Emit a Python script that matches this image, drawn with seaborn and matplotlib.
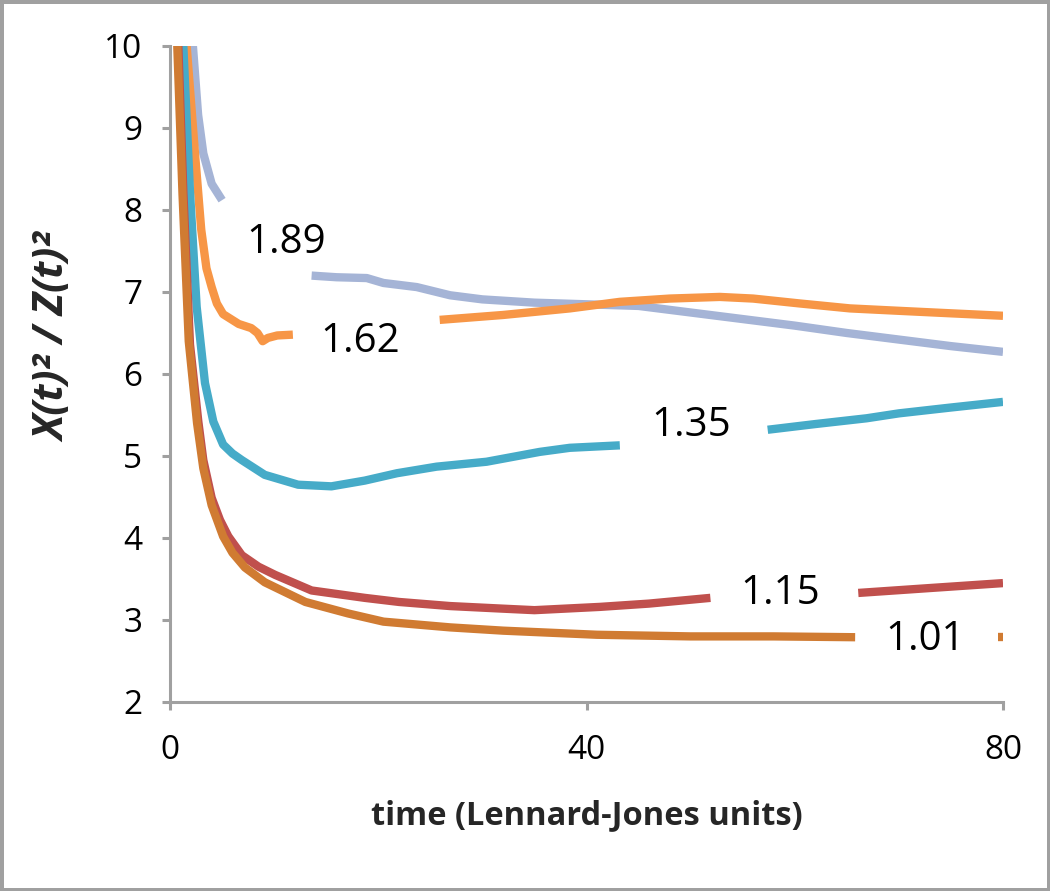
import numpy as np
import pandas as pd
import matplotlib
matplotlib.use("Agg")
import matplotlib.pyplot as plt
import seaborn as sns

# ratio X(t)^2 / Z(t)^2 vs time, one curve per label; nan = gap left for the label
t_189 = [1.9, 2.2, 2.7, 3.2, 4.0, 4.6, 5.0, np.nan,
         13.6, 16, 18.9, 20.5, 23.7, 26.9, 30, 35, 40, 45, 50, 55, 60, 65, 70, 75, 80]
r_189 = [11.0, 10.0, 9.16, 8.69, 8.32, 8.20, 8.12, np.nan,
         7.20, 7.18, 7.17, 7.11, 7.06, 6.96, 6.91, 6.87, 6.85, 6.83, 6.75, 6.67, 6.59, 6.50, 6.42, 6.34, 6.27]

t_162 = [1.3, 1.6, 2.4, 3.0, 3.5, 4.0, 4.5, 5.1, 6.6, 7.8, 8.4, 8.9, 9.4, 10.3, 11.8, np.nan,
         25.9, 32.0, 38.4, 43.2, 48, 52.8, 56, 60.5, 65.3, 70.1, 75, 80]
r_162 = [11.0, 10.0, 8.69, 7.76, 7.29, 7.06, 6.86, 6.73, 6.61, 6.56, 6.50, 6.40, 6.44, 6.47, 6.48, np.nan,
         6.66, 6.72, 6.80, 6.88, 6.92, 6.94, 6.92, 6.86, 6.80, 6.77, 6.74, 6.71]

t_135 = [1.0, 1.28, 1.92, 2.56, 3.36, 4.16, 5.1, 6.0, 6.9, 9.1, 12.3, 15.5, 18.7, 21.8, 25.6, 30.4, 35.5, 38.4, 43.2, np.nan,
         57.4, 62, 66.9, 70, 74.9, 80]
r_135 = [11.0, 10.0, 8.22, 6.82, 5.89, 5.42, 5.14, 5.03, 4.95, 4.77, 4.65, 4.63, 4.70, 4.79, 4.87, 4.93, 5.05, 5.10, 5.13, np.nan,
         5.32, 5.39, 5.46, 5.52, 5.59, 5.66]

t_115 = [0.6, 0.8, 1.28, 1.92, 2.72, 3.2, 4.0, 4.8, 5.6, 6.9, 8.5, 10.1, 13.6, 18.7, 22, 26.9, 31.7, 35, 41.3, 46, 51.9, np.nan,
         66.1, 73, 80]
r_115 = [11.0, 10.0, 8.22, 6.36, 5.42, 4.95, 4.49, 4.22, 4.02, 3.79, 3.65, 3.55, 3.36, 3.27, 3.22, 3.17, 3.14, 3.12, 3.16, 3.20, 3.27, np.nan,
         3.33, 3.39, 3.45]

t_101 = [0.5, 0.7, 1.2, 1.8, 2.6, 3.2, 4.0, 5.1, 6.0, 7.2, 9.1, 13.0, 17.1, 20.5, 26.9, 32, 41, 50, 58, 65.8, np.nan,
         79.5, 80]
r_101 = [11.0, 10.0, 8.2, 6.4, 5.4, 4.85, 4.4, 4.02, 3.82, 3.64, 3.46, 3.22, 3.08, 2.98, 2.91, 2.87, 2.82, 2.80, 2.80, 2.79, np.nan,
         2.79, 2.79]

labels = ["1.89", "1.62", "1.35", "1.15", "1.01"]
colors = ["#a5b4d6", "#f79646", "#46abc8", "#c0504d", "#d07b32"]
# where each curve's label sits (time, ratio)
label_t = [11.2, 18.3, 50.1, 58.6, 72.5]
label_r = [7.60, 6.39, 5.37, 3.32, 2.76]

series = [(t_189, r_189), (t_162, r_162), (t_135, r_135), (t_115, r_115), (t_101, r_101)]
frames = []
for lab, (t, r) in zip(labels, series):
    d = pd.DataFrame({"t": t, "ratio": r})
    d["seg"] = d["t"].isna().cumsum()
    d["label"] = lab
    frames.append(d.dropna())
df = pd.concat(frames, ignore_index=True)

sns.set_style("white")
plt.rcParams["font.family"] = ["Open Sans", "DejaVu Sans"]

fig = plt.figure(figsize=(10.5, 8.91), dpi=100)
ax = fig.add_axes([170/1050, 1 - 702/891, 833/1050, 656/891])

sns.lineplot(data=df, x="t", y="ratio", hue="label", units="seg", estimator=None,
             sort=False, palette=dict(zip(labels, colors)), hue_order=labels,
             linewidth=6, legend=False, solid_capstyle="butt", ax=ax)

for lab, x, y in zip(labels, label_t, label_r):
    ax.text(x, y, lab, ha="center", va="center", fontsize=29, color="black")

ax.set_xlim(0, 80)
ax.set_ylim(2, 10)
ax.set_xticks([0, 40, 80])
ax.set_yticks(range(2, 11))

grey = "#a0a0a0"
for s in ["top", "right"]:
    ax.spines[s].set_visible(False)
for s in ["left", "bottom"]:
    ax.spines[s].set_color(grey)
    ax.spines[s].set_linewidth(2.2)
ax.tick_params(axis="both", direction="out", length=6, width=2.2, color=grey,
               left=True, bottom=True, labelsize=24, labelcolor="black")
ax.tick_params(axis="y", pad=14)
ax.tick_params(axis="x", pad=17)

ax.set_xlabel("time (Lennard-Jones units)", fontsize=23.5, fontweight="bold", va="top")
ax.xaxis.set_label_coords(0.5, -0.148)
ax.set_ylabel("X(t)² / Z(t)²", fontsize=30, fontweight="bold", style="italic")
ax.yaxis.set_label_coords(-0.113, 0.555)

fig.patch.set_edgecolor(grey)
fig.patch.set_linewidth(5)

fig.savefig("out.png", dpi=100, edgecolor=fig.get_edgecolor())
